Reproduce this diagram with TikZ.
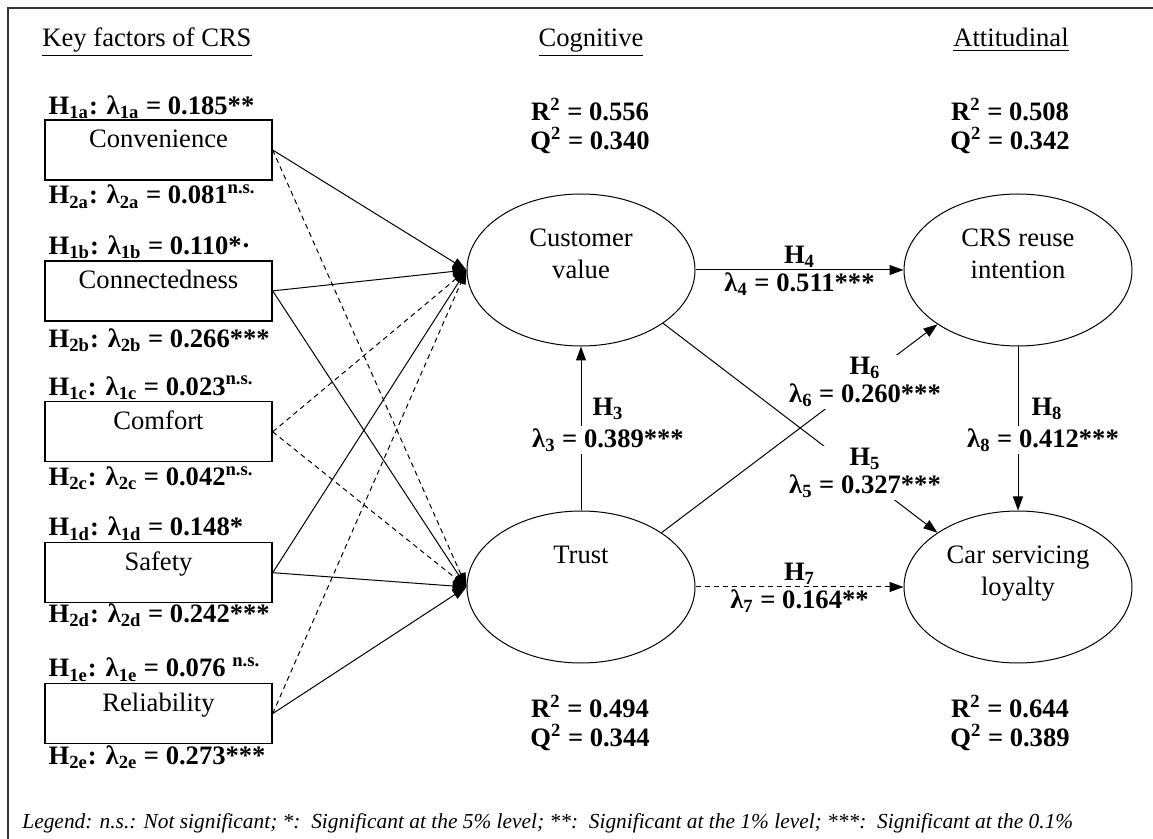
\documentclass[tikz,border=0pt]{standalone}
\usepackage{fontspec}
\setmainfont{Liberation Serif}
\usetikzlibrary{positioning, arrows.meta, shapes.geometric}

\newcommand{\mainsize}{\fontsize{13.3}{16}\selectfont}

\tikzset{
  factor/.style={draw, line width=0.7pt, minimum width=113.5pt, inner sep=0pt,
                 text height=14pt, text depth=16pt, font=\mainsize},
  construct/.style={draw, ellipse, line width=0.5pt, minimum width=114pt,
                    minimum height=76pt, inner sep=0pt, align=center, font=\mainsize},
  coef/.style={font=\mainsize\bfseries, inner sep=1pt},
  coefpair/.style={font=\fontsize{13.3}{14}\selectfont\bfseries, align=center,
                   inner sep=1pt, fill=white},
  fitstat/.style={font=\fontsize{13.3}{14.5}\selectfont\bfseries, align=center, inner sep=1pt},
  head/.style={font=\mainsize, inner sep=1pt, anchor=base},
  legendtxt/.style={font=\fontsize{10.7}{12}\selectfont\itshape, inner sep=0pt},
  sigline/.style={line width=0.5pt},
  nsline/.style={line width=0.5pt, dash pattern=on 2.5pt off 2pt},
}

\begin{document}
\begin{tikzpicture}[x=0.5pt, y=-0.5pt, node distance=39.75pt,
    >={Triangle[length=7pt, width=5pt]}]
  \useasboundingbox (0,0) rectangle (1153,839);
  \draw[line width=1pt, draw=black!80] (8,839) -- (8,8) -- (1153,8);

  % column heads
  \node[head] (hkey) at (147,47) {\underline{Key factors of CRS}};
  \node[head] (hcog) at (591,47) {\underline{Cognitive}};
  \node[head] (hatt) at (1011,47) {\underline{Attitudinal}};

  % key factors
  \node[factor] (conv) at (158.5,150) {Convenience};
  \node[factor, below=of conv] (conn) {Connectedness};
  \node[factor, below=of conn] (comf) {Comfort};
  \node[factor, below=of comf] (safe) {Safety};
  \node[factor, below=of safe] (reli) {Reliability};

  \node[coef, anchor=base west] (l1a) at ([xshift=1pt, yshift=2.5pt]conv.north west) {H\textsubscript{1a}: λ\textsubscript{1a} = 0.185**};
  \node[coef, anchor=base west] (l2a) at ([xshift=1pt, yshift=-11.5pt]conv.south west) {H\textsubscript{2a}: λ\textsubscript{2a} = 0.081\textsuperscript{n.s.}};
  \node[coef, anchor=base west] (l1b) at ([xshift=1pt, yshift=3pt]conn.north west) {H\textsubscript{1b}: λ\textsubscript{1b} = 0.110*·};
  \node[coef, anchor=base west] (l2b) at ([xshift=1pt, yshift=-13pt]conn.south west) {H\textsubscript{2b}: λ\textsubscript{2b} = 0.266***};
  \node[coef, anchor=base west] (l1c) at ([xshift=1pt, yshift=3pt]comf.north west) {H\textsubscript{1c}: λ\textsubscript{1c} = 0.023\textsuperscript{n.s.}};
  \node[coef, anchor=base west] (l2c) at ([xshift=1pt, yshift=-11.5pt]comf.south west) {H\textsubscript{2c}: λ\textsubscript{2c} = 0.042\textsuperscript{n.s.}};
  \node[coef, anchor=base west] (l1d) at ([xshift=1pt, yshift=3pt]safe.north west) {H\textsubscript{1d}: λ\textsubscript{1d} = 0.148*};
  \node[coef, anchor=base west] (l2d) at ([xshift=1pt, yshift=-9.5pt]safe.south west) {H\textsubscript{2d}: λ\textsubscript{2d} = 0.242***};
  \node[coef, anchor=base west] (l1e) at ([xshift=1pt, yshift=3pt]reli.north west) {H\textsubscript{1e}: λ\textsubscript{1e} = 0.076 \textsuperscript{n.s.}};
  \node[coef, anchor=base west] (l2e) at ([xshift=1pt, yshift=-10pt]reli.south west) {H\textsubscript{2e}: λ\textsubscript{2e} = 0.273***};

  % constructs
  \node[construct] (cv) at (581,270) {Customer\\value\\~};
  \node[construct] (trust) at (581,587) {Trust\\~\\~};
  \node[construct] (crs) at (1018,270) {CRS reuse\\intention\\~};
  \node[construct] (loyal) at (1018,587) {Car servicing\\loyalty\\~};

  \node[fitstat] (fcv) at (590,126) {R\textsuperscript{2} = 0.556\\Q\textsuperscript{2} = 0.340};
  \node[fitstat] (fcrs) at (1010,126) {R\textsuperscript{2} = 0.508\\Q\textsuperscript{2} = 0.342};
  \node[fitstat] (ftrust) at (590,723) {R\textsuperscript{2} = 0.494\\Q\textsuperscript{2} = 0.344};
  \node[fitstat] (floyal) at (1010,723) {R\textsuperscript{2} = 0.644\\Q\textsuperscript{2} = 0.389};

  % factor paths
  \draw[sigline, ->] (conv.east) -- (cv.west);
  \draw[nsline, ->] (conv.east) -- (trust.west);
  \draw[sigline, ->] (conn.east) -- (cv.west);
  \draw[sigline, ->] (conn.east) -- (trust.west);
  \draw[nsline, ->] (comf.east) -- (cv.west);
  \draw[nsline, ->] (comf.east) -- (trust.west);
  \draw[sigline, ->] (safe.east) -- (cv.west);
  \draw[sigline, ->] (safe.east) -- (trust.west);
  \draw[nsline, ->] (reli.east) -- (cv.west);
  \draw[sigline, ->] (reli.east) -- (trust.west);

  % structural paths
  \draw[sigline, ->] (cv.east) -- node[coef, above] (h4) {H\textsubscript{4}}
    node[coef, below] (l4) {λ\textsubscript{4} = 0.511***} (crs.west);
  \draw[nsline, ->] (trust.east) -- node[coef, above] (h7) {H\textsubscript{7}}
    node[coef, below] (l7) {λ\textsubscript{7} = 0.164**} (loyal.west);
  \draw[sigline, ->] (trust.north) -- (cv.south);
  \draw[sigline, ->] (crs.south) -- (loyal.north);
  \draw[sigline, ->] (cv.-33) -- (loyal.146);
  \draw[sigline, ->] (trust.34) -- (crs.214);

  \node[coef] (h3) at (608,409) {H\textsubscript{3}};
  \node[coef, fill=white] (l3) at (608,440) {λ\textsubscript{3} = 0.389***};
  \node[coef] (h8) at (1047,409) {H\textsubscript{8}};
  \node[coef, fill=white] (l8) at (1043,440) {λ\textsubscript{8} = 0.412***};
  \node[coefpair] (l6) at (865,382) {H\textsubscript{6}\\λ\textsubscript{6} = 0.260***};
  \node[coefpair] (l5) at (865,473) {H\textsubscript{5}\\λ\textsubscript{5} = 0.327***};

  % legend
  \node[legendtxt, anchor=west] (legend) at (22,823) {Legend: n.s.: Not significant; *:\ \ Significant at the 5\% level; **:\ \ Significant at the 1\% level; ***:\ \ Significant at the 0.1\%};
\end{tikzpicture}
\end{document}
